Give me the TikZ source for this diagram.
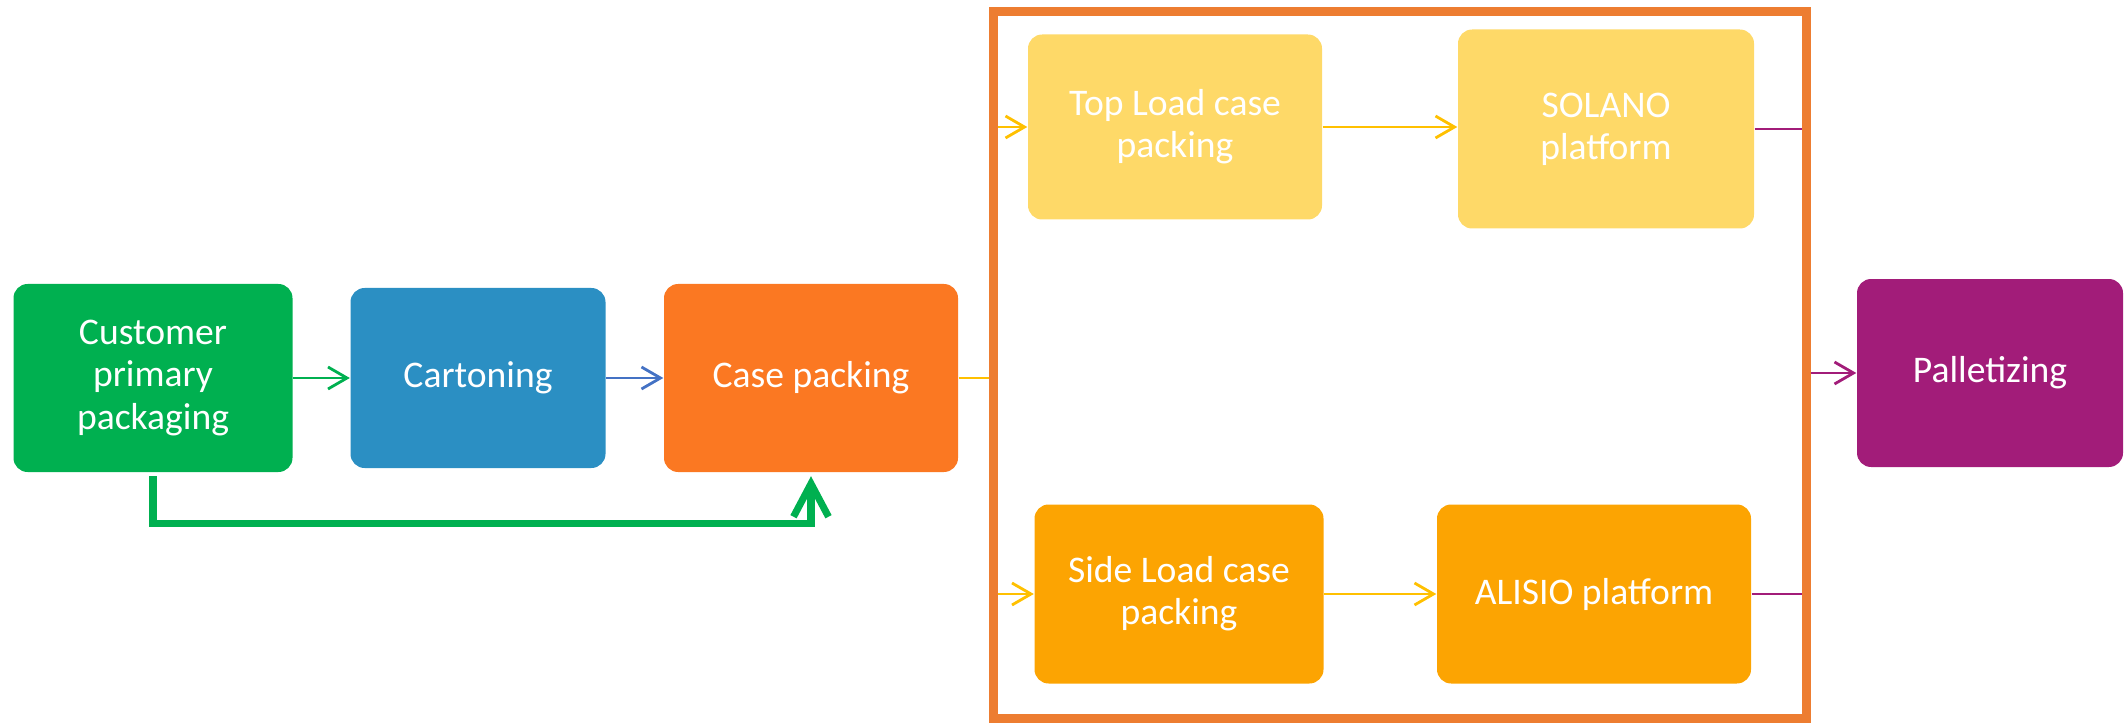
\documentclass[tikz,border=0pt]{standalone}
\usepackage{fontspec}
\setmainfont{Carlito}
\usetikzlibrary{arrows.meta,positioning}

\definecolor{custgreen}{RGB}{0,176,80}
\definecolor{cartblue}{RGB}{43,143,195}
\definecolor{caseorange}{RGB}{251,120,34}
\definecolor{frameorange}{RGB}{237,125,49}
\definecolor{topyellow}{RGB}{254,217,104}
\definecolor{sideorange}{RGB}{252,164,2}
\definecolor{palpurple}{RGB}{162,28,121}
\definecolor{linkblue}{RGB}{68,114,196}
\definecolor{linkyellow}{RGB}{255,192,0}

\begin{document}
\begin{tikzpicture}[
    font=\fontsize{10.7}{12}\selectfont,
    stage/.style={rectangle, rounded corners=4pt, text=white, align=center, inner sep=2pt},
    group/.style={draw=frameorange, line width=2.4pt, outer sep=0pt},
    flow/.style={-{Straight Barb[length=1.9mm, width=2.2mm]}, line width=0.8pt},
    link/.style={line width=0.8pt},
    feed/.style={-{Straight Barb[length=3.3mm, width=3.5mm]}, line width=2pt, draw=custgreen}
  ]
  \useasboundingbox (0,0) rectangle (21.24,7.24);

  % Main line
  \node[stage, fill=custgreen, minimum width=2.79cm, minimum height=1.88cm] (cust) at (1.53,3.46) {Customer\\primary\\packaging};
  \node[stage, fill=cartblue, minimum width=2.55cm, minimum height=1.80cm] (cart) at (4.78,3.46) {Cartoning};
  \node[stage, fill=caseorange, minimum width=2.94cm, minimum height=1.88cm] (casep) at (8.11,3.46) {Case packing};

  % Case packing options
  \node[group, minimum width=8.13cm, minimum height=7.07cm] (options) at (14.0,3.59) {};

  \node[stage, fill=topyellow, minimum width=2.94cm, minimum height=1.85cm] (top) at (11.75,5.97) {Top Load case\\packing};
  \node[stage, fill=topyellow, minimum width=2.96cm, minimum height=1.99cm] (solano) at (16.06,5.95) {SOLANO\\platform};

  \node[stage, fill=sideorange, minimum width=2.89cm, minimum height=1.79cm] (side) at (11.79,1.30) {Side Load case\\packing};
  \node[stage, fill=sideorange, minimum width=3.14cm, minimum height=1.79cm] (alisio) at (15.94,1.30) {ALISIO platform};

  % End of line
  \node[stage, fill=palpurple, minimum width=2.66cm, minimum height=1.88cm] (pallet) at (19.90,3.51) {Palletizing};

  % Connectors
  \draw[flow, draw=custgreen] (cust.east) -- (cart.west);
  \draw[flow, draw=linkblue] (cart.east) -- (casep.west);
  \draw[link, draw=linkyellow, shorten >=1.2pt] (casep.east) -- (casep.east -| options.west);

  \draw[flow, draw=linkyellow, shorten <=1.2pt] (top.west -| options.west) -- (top.west);
  \draw[flow, draw=linkyellow, shorten <=1.2pt] (side.west -| options.west) -- (side.west);
  \draw[flow, draw=linkyellow] (top.east) -- (top.east -| solano.west);
  \draw[flow, draw=linkyellow] (side.east) -- (alisio.west);

  \draw[link, draw=palpurple, shorten >=1.2pt] (solano.east) -- (solano.east -| options.east);
  \draw[link, draw=palpurple, shorten >=1.2pt] (alisio.east) -- (alisio.east -| options.east);
  \draw[flow, draw=palpurple, shorten <=1.2pt] (pallet.west -| options.east) -- (pallet.west);

  % Bypass of cartoning
  \draw[feed, shorten <=1pt, shorten >=1pt] (cust.south) -- ++(0,-0.51) -| (casep.south);
\end{tikzpicture}
\end{document}
